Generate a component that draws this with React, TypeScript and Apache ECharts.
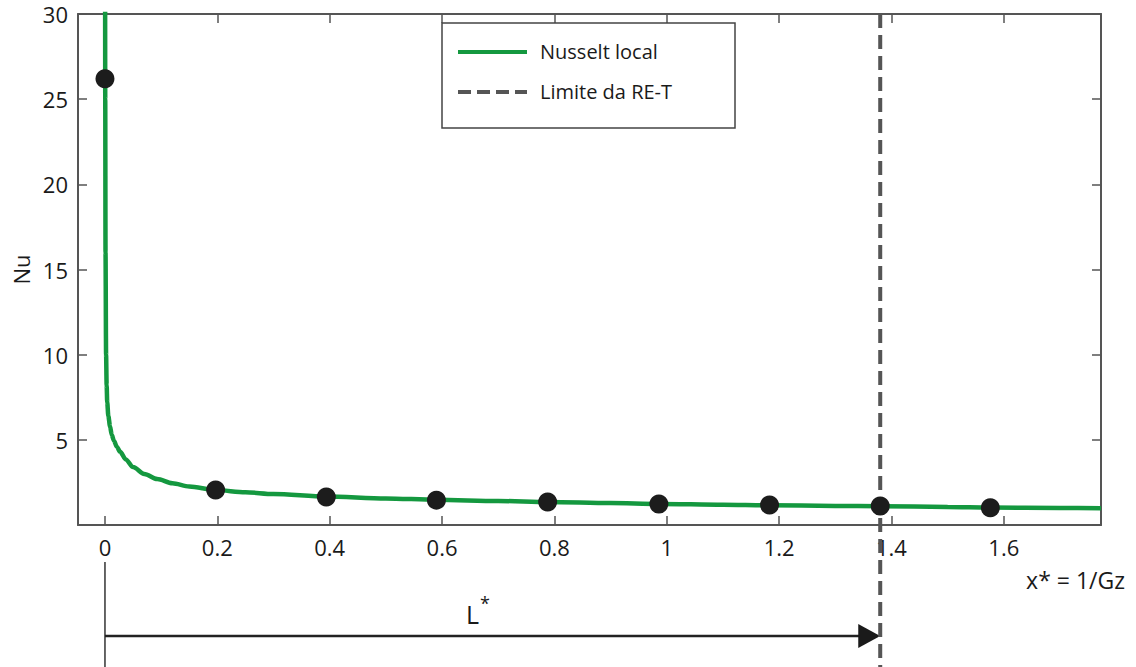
import React, { useEffect, useRef } from "react";
import * as echarts from "echarts";

// Local Nusselt number along the dimensionless axial coordinate x* = 1/Gz
const NUSSELT_CURVE: [number, number][] = [
  [0.0001, 40], [0.0005, 25], [0.001, 16], [0.002, 10], [0.003, 8.2],
  [0.004, 7.2], [0.006, 6.4], [0.009, 5.8], [0.012, 5.3], [0.016, 4.95],
  [0.021, 4.6], [0.027, 4.3], [0.037, 3.85], [0.05, 3.4], [0.07, 3.0],
  [0.093, 2.7], [0.12, 2.45], [0.15, 2.26], [0.197, 2.05], [0.25, 1.92],
  [0.3, 1.82], [0.394, 1.67], [0.5, 1.56], [0.59, 1.48], [0.7, 1.41],
  [0.79, 1.35], [0.9, 1.29], [0.986, 1.24], [1.1, 1.19], [1.18, 1.16],
  [1.3, 1.12], [1.38, 1.1], [1.5, 1.06], [1.576, 1.03], [1.7, 1.0],
  [1.773, 0.98],
];

// Discrete points (markers)
const POINT_X = [0, 0.197, 0.394, 0.59, 0.788, 0.986, 1.183, 1.38, 1.576];
const POINT_NU = [26.2, 2.05, 1.64, 1.46, 1.35, 1.23, 1.17, 1.11, 1.01];

// Thermal entrance region limit (L*)
const LIMIT_X = 1.38;

const X_TICKS = [0, 0.2, 0.4, 0.6, 0.8, 1, 1.2, 1.4, 1.6];
const X_MIN = -0.048;
const X_MAX = 1.773;
const Y_MIN = 0;
const Y_MAX = 30;
const Y_STEP = 5;

const FONT = "Open Sans";
const AXIS_COLOR = "#555";
const GREEN = "#14983f";

export default function App() {
  const ref = useRef<HTMLDivElement>(null);

  useEffect(() => {
    if (!ref.current) return;
    const chart = echarts.init(ref.current, undefined, { renderer: "svg" });

    const axisLine = { show: true, onZero: false, lineStyle: { color: AXIS_COLOR, width: 2 } };
    const tickStyle = { color: AXIS_COLOR, width: 1.5 };

    chart.setOption({
      animation: false,
      backgroundColor: "#fff",
      grid: { left: 78, right: 35, top: 12, bottom: 142 },
      xAxis: [
        {
          type: "value",
          position: "bottom",
          min: X_MIN,
          max: X_MAX,
          axisLine,
          axisTick: { show: true, inside: true, length: 9, customValues: X_TICKS, lineStyle: tickStyle },
          axisLabel: {
            customValues: X_TICKS,
            formatter: (v: number) => String(v),
            fontSize: 22,
            color: "#1a1a1a",
            fontFamily: FONT,
            margin: 11,
          },
          splitLine: { show: false },
        },
        {
          type: "value",
          position: "top",
          min: X_MIN,
          max: X_MAX,
          axisLine,
          axisTick: { show: true, inside: true, length: 9, customValues: X_TICKS, lineStyle: tickStyle },
          axisLabel: { show: false },
          splitLine: { show: false },
        },
      ],
      yAxis: [
        {
          type: "value",
          position: "left",
          min: Y_MIN,
          max: Y_MAX,
          interval: Y_STEP,
          name: "Nu",
          nameLocation: "middle",
          nameGap: 44,
          nameTextStyle: { fontSize: 22, color: "#1a1a1a", fontFamily: FONT },
          axisLine,
          axisTick: { show: true, inside: true, length: 9, lineStyle: tickStyle },
          axisLabel: {
            showMinLabel: false,
            fontSize: 22,
            lineHeight: 22,
            padding: [6, 0, 0, 0],
            color: "#1a1a1a",
            fontFamily: FONT,
            margin: 10,
          },
          splitLine: { show: false },
        },
        {
          type: "value",
          position: "right",
          min: Y_MIN,
          max: Y_MAX,
          interval: Y_STEP,
          axisLine,
          axisTick: { show: true, inside: true, length: 9, lineStyle: tickStyle },
          axisLabel: { show: false },
          splitLine: { show: false },
        },
      ],
      series: [
        {
          name: "Nusselt local",
          type: "line",
          data: NUSSELT_CURVE,
          showSymbol: false,
          smooth: 0.3,
          smoothMonotone: "x",
          clip: true,
          lineStyle: { color: GREEN, width: 4.5 },
          z: 3,
        },
        {
          type: "scatter",
          data: POINT_X.map((x, i) => [x, POINT_NU[i]]),
          symbol: "circle",
          symbolSize: 19,
          itemStyle: { color: "#1c1c1c", opacity: 1 },
          z: 5,
        },
      ],
    });

    // Annotations positioned through the axis scales
    const xLimit = chart.convertToPixel({ xAxisIndex: 0 }, LIMIT_X) as number;
    const xZero = chart.convertToPixel({ xAxisIndex: 0 }, 0) as number;
    const yTop = chart.convertToPixel({ yAxisIndex: 0 }, Y_MAX) as number;
    const arrowY = 636;

    chart.setOption({
      graphic: [
        // RE-T limit line, running through the plot and below it
        {
          type: "line",
          z: 4,
          shape: { x1: xLimit, y1: yTop, x2: xLimit, y2: 667 },
          style: { stroke: "#555", lineWidth: 4, lineDash: [14, 7] },
        },
        // origin marker below the axis
        {
          type: "line",
          shape: { x1: xZero, y1: 562, x2: xZero, y2: 667 },
          style: { stroke: "#333", lineWidth: 1.5 },
        },
        // L* arrow
        {
          type: "line",
          shape: { x1: xZero, y1: arrowY, x2: xLimit - 20, y2: arrowY },
          style: { stroke: "#222", lineWidth: 2.5 },
        },
        {
          type: "polygon",
          shape: {
            points: [
              [xLimit - 22, arrowY - 12],
              [xLimit, arrowY],
              [xLimit - 22, arrowY + 12],
            ],
          },
          style: { fill: "#1a1a1a" },
        },
        {
          type: "text",
          x: 466,
          y: 610,
          style: {
            text: "{m|L}{s|*}",
            rich: {
              m: { fontSize: 25, fontFamily: FONT, fill: "#1a1a1a", verticalAlign: "bottom" },
              s: { fontSize: 18, fontFamily: FONT, fill: "#1a1a1a", padding: [0, 0, 14, 1] },
            },
            verticalAlign: "middle",
            align: "left",
          },
        },
        {
          type: "text",
          x: 1125,
          y: 580,
          style: {
            text: "x* = 1/Gz",
            fontSize: 23,
            fontFamily: FONT,
            fill: "#1a1a1a",
            align: "right",
            verticalAlign: "middle",
          },
        },
        // legend
        {
          type: "rect",
          z: 10,
          shape: { x: 442, y: 23, width: 293, height: 105 },
          style: { fill: "#fff", stroke: "#444", lineWidth: 1.5 },
        },
        {
          type: "line",
          z: 11,
          shape: { x1: 458, y1: 52, x2: 527, y2: 52 },
          style: { stroke: GREEN, lineWidth: 4 },
        },
        {
          type: "text",
          z: 11,
          x: 540,
          y: 51,
          style: {
            text: "Nusselt local",
            fontSize: 20,
            fontFamily: FONT,
            fill: "#1a1a1a",
            verticalAlign: "middle",
          },
        },
        {
          type: "line",
          z: 11,
          shape: { x1: 458, y1: 92, x2: 527, y2: 92 },
          style: { stroke: "#555", lineWidth: 4, lineDash: [13, 6] },
        },
        {
          type: "text",
          z: 11,
          x: 540,
          y: 91,
          style: {
            text: "Limite da RE-T",
            fontSize: 20,
            fontFamily: FONT,
            fill: "#1a1a1a",
            verticalAlign: "middle",
          },
        },
      ],
    });

    return () => chart.dispose();
  }, []);

  return (
    <div
      ref={ref}
      style={{ position: "fixed", left: 0, top: 0, width: 1136, height: 667, background: "#fff" }}
    />
  );
}
